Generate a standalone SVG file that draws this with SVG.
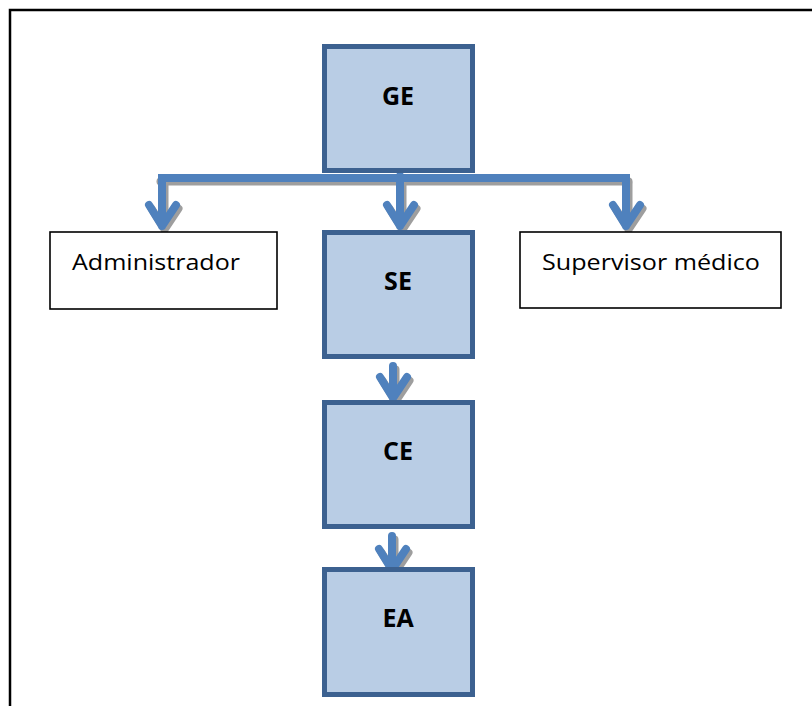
<svg xmlns="http://www.w3.org/2000/svg" width="812" height="706" viewBox="0 0 812 706">
  <style>
    .frame { fill: none; stroke: #000; stroke-width: 2.5; }
    .unit rect { fill: #b9cde5; stroke: #3c6190; stroke-width: 5; }
    .role rect { fill: #fff; stroke: #000; stroke-width: 1.6; }
    .unit text { font-family: "Open Sans", "Noto Sans", "DejaVu Sans", sans-serif; font-weight: bold; font-size: 25px; fill: #000; text-anchor: middle; }
    .role text { font-family: "Open Sans", "Noto Sans", "DejaVu Sans", sans-serif; font-size: 22px; fill: #000; }
    .shadow path { fill: none; stroke: #9e9e9e; stroke-width: 8; stroke-linecap: round; stroke-linejoin: round; }
    .line path { fill: none; stroke: #4f81bd; stroke-width: 8; stroke-linecap: round; stroke-linejoin: round; }
    .line path.bar { stroke-linecap: butt; }
  </style>

  <!-- page frame (top and left rules) -->
  <path class="frame" d="M10 706 V10 H812"/>

  <!-- connectors: drop shadow first, then the blue lines -->
  <g id="connectors">
    <g class="shadow" transform="translate(2.5,3.5)">
      <path d="M158 178 H626"/>
      <path d="M162 180 V226 M149 205 L162 226 L176 205"/>
      <path d="M400 180 V226 M387 205 L400 226 L414 205"/>
      <path d="M626 180 V226 M613 205 L626 226 L640 205"/>
      <path d="M393 366 V398 M380 377 L393 398 L407 377"/>
      <path d="M392 536 V570 M379 549 L392 570 L406 549"/>
    </g>
    <g class="line">
      <path class="bar" d="M158 178 H630"/>
      <path d="M162 178 V226 M149 205 L162 226 L176 205"/>
      <path d="M400 176 V226 M387 205 L400 226 L414 205"/>
      <path d="M626 178 V226 M613 205 L626 226 L640 205"/>
      <path d="M393 366 V398 M380 377 L393 398 L407 377"/>
      <path d="M392 536 V570 M379 549 L392 570 L406 549"/>
    </g>
  </g>

  <g id="ge" class="unit">
    <rect x="324.5" y="46.5" width="148" height="124"/>
    <text x="398" y="105">GE</text>
  </g>

  <g id="administrador" class="role">
    <rect x="50" y="232" width="227" height="77"/>
    <text x="72" y="270" textLength="168" lengthAdjust="spacingAndGlyphs">Administrador</text>
  </g>

  <g id="se" class="unit">
    <rect x="324.5" y="232.5" width="148" height="124"/>
    <text x="398" y="290">SE</text>
  </g>

  <g id="supervisor" class="role">
    <rect x="520" y="232" width="261" height="76"/>
    <text x="542" y="270" textLength="218" lengthAdjust="spacingAndGlyphs">Supervisor médico</text>
  </g>

  <g id="ce" class="unit">
    <rect x="324.5" y="402.5" width="148" height="124"/>
    <text x="398" y="460">CE</text>
  </g>

  <g id="ea" class="unit">
    <rect x="324.5" y="569.5" width="148" height="125"/>
    <text x="398" y="627">EA</text>
  </g>
</svg>
